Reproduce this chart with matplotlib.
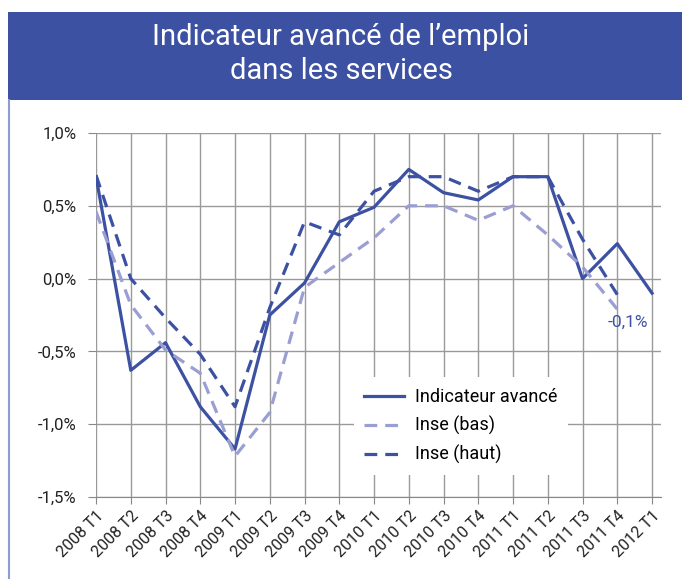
import matplotlib.pyplot as plt
from matplotlib.patches import Rectangle
from matplotlib.lines import Line2D

trimestres = ['2008 T1', '2008 T2', '2008 T3', '2008 T4', '2009 T1', '2009 T2',
              '2009 T3', '2009 T4', '2010 T1', '2010 T2', '2010 T3', '2010 T4',
              '2011 T1', '2011 T2', '2011 T3', '2011 T4', '2012 T1']
indicateur = [0.70, -0.63, -0.44, -0.88, -1.17, -0.25, -0.03, 0.39, 0.49, 0.75,
              0.59, 0.54, 0.70, 0.70, 0.00, 0.24, -0.10]
inse_bas = [0.46, -0.18, -0.49, -0.65, -1.22, -0.92, -0.06, 0.11, 0.28, 0.50,
            0.50, 0.40, 0.50, 0.30, 0.08, -0.21]
inse_haut = [0.71, 0.00, -0.27, -0.52, -0.88, -0.20, 0.39, 0.30, 0.60, 0.70,
             0.70, 0.60, 0.70, 0.70, 0.27, -0.11]

bleu = '#3D51A3'
bleu_clair = '#9A9ED2'

plt.rcParams['font.family'] = ['Roboto', 'DejaVu Sans']

fig = plt.figure(figsize=(6.82, 5.79), dpi=100)

# bandeau du titre
fig.patches.append(Rectangle((0.0117, 0.827), 0.99, 0.152, transform=fig.transFigure,
                             facecolor=bleu, edgecolor='none'))
fig.lines.append(Line2D([0.0125, 0.0125], [0.0, 0.827], transform=fig.transFigure,
                        color='#8F9BD5', lw=1.5))
fig.text(0.5, 0.907, "Indicateur avancé de l\u2019emploi\ndans les services",
         ha='center', va='center', color='white', fontsize=21, linespacing=1.3)

ax = fig.add_axes([0.1408, 0.1416, 0.828, 0.6287])
x = range(len(trimestres))
ax.plot(x, indicateur, color=bleu, lw=2.3, label='Indicateur avancé')
ax.plot(range(len(inse_bas)), inse_bas, color=bleu_clair, lw=2.3, dashes=(4, 2.5),
        label='Inse (bas)')
ax.plot(range(len(inse_haut)), inse_haut, color=bleu, lw=2.3, dashes=(4, 2.5),
        label='Inse (haut)')

ax.set_xlim(0, 16.25)
ax.set_ylim(-1.5, 1.0)
ax.set_xticks(list(x))
ax.set_xticklabels(trimestres, rotation=45, ha='right', rotation_mode='anchor',
                   fontsize=11.5, color='#222222')
yt = [-1.5, -1.0, -0.5, 0.0, 0.5, 1.0]
ax.set_yticks(yt)
ax.set_yticklabels([('%.1f%%' % v).replace('.', ',') for v in yt], fontsize=12,
                   color='#222222')
ax.grid(True, color='#9A9A9A', lw=1)
ax.set_axisbelow(True)
for s in ['top', 'right', 'left']:
    ax.spines[s].set_visible(False)
ax.spines['bottom'].set_color('#888888')
ax.tick_params(axis='y', length=6, color='#888888', pad=8)
ax.tick_params(axis='x', length=5, color='#888888', pad=3)

ax.text(15.3, -0.30, '-0,1%', color=bleu, fontsize=12.5, ha='center', va='center')

leg = ax.legend(loc='lower left', bbox_to_anchor=(0.44, 0.035), frameon=True,
                fontsize=13, handlelength=2.2, labelspacing=0.55, borderpad=0.6,
                handletextpad=0.6)
leg.get_frame().set_edgecolor('none')
leg.get_frame().set_facecolor('white')
leg.get_frame().set_alpha(1)
leg.get_frame().set_boxstyle('square', pad=0)

fig.savefig('out.png', dpi=100)
